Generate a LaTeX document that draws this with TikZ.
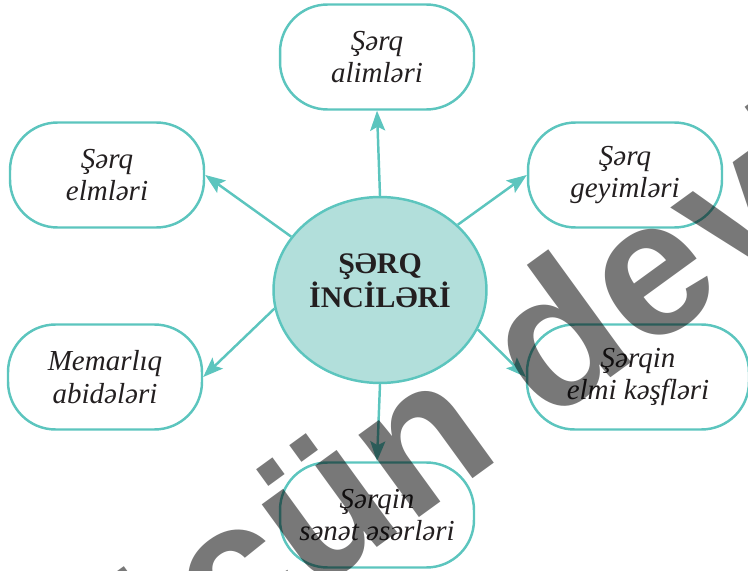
\documentclass[tikz,border=0pt]{standalone}
\usepackage{fontspec}
\setmainfont{Liberation Serif}
\newfontfamily\wmfont{Liberation Sans}
\usetikzlibrary{shapes.geometric,arrows.meta}

\definecolor{tealline}{HTML}{5CC5BE}
\definecolor{tealfill}{HTML}{B2DFDB}
\definecolor{inktext}{HTML}{231F20}

\tikzset{
  pearl/.style={draw=tealline,line width=1.4pt,rounded corners=0.95cm,minimum width=3.88cm,minimum height=2.1cm,
                align=center,fill=white,text=inktext,font=\fontsize{16.5}{18.5}\selectfont\itshape},
  hub/.style={ellipse,draw=tealline,fill=tealfill,line width=1.4pt,minimum width=4.26cm,minimum height=3.72cm},
  hubtext/.style={align=center,text=inktext,font=\fontsize{17}{17.6}\selectfont\bfseries},
  link/.style={draw=tealline,line width=1.4pt,-{Stealth[length=0.4cm,width=0.3cm,inset=0.08cm]}},
  wmark/.style={text=black,text opacity=0.53,font=\wmfont\bfseries\fontsize{110}{110}\selectfont}
}

\begin{document}
\begin{tikzpicture}[x=0.02cm,y=-0.02cm]
\useasboundingbox (0,0) rectangle (748,571);
\clip (0,0) rectangle (748,571);

% centre
\node[hub] (cx) at (380,290) {};
\node[hubtext] (cxt) at (380,281) {ŞƏRQ\\İNCİLƏRİ};

% outer boxes
\node[pearl] (al) at (377,57) {Şərq\\alimləri};
\node[pearl] (el) at (107,175) {Şərq\\elmləri};
\node[pearl] (gy) at (625,175) {Şərq\\geyimləri};
\node[pearl] (mem) at (105,377) {Memarlıq\\abidələri};
\node[pearl,minimum width=4.44cm] (kf) at (638,377) {Şərqin\\elmi kəşfləri};
\node[pearl] (sn) at (377,515) {Şərqin\\sənət əsərləri};

% arrows
\draw[link] (cx.north) -- (al.south);
\draw[link] (cx.149) -- (el.east);
\draw[link] (cx.40) -- (gy.west);
\draw[link] (cx.190) -- (mem.east);
\draw[link] (cx.338) -- (kf.west);
\draw[link] (cx.south) -- (sn.north);

% watermark
\node[wmark,rotate=36,anchor=base west] (wm) at (125,731) {üçün deyil};
\end{tikzpicture}
\end{document}
